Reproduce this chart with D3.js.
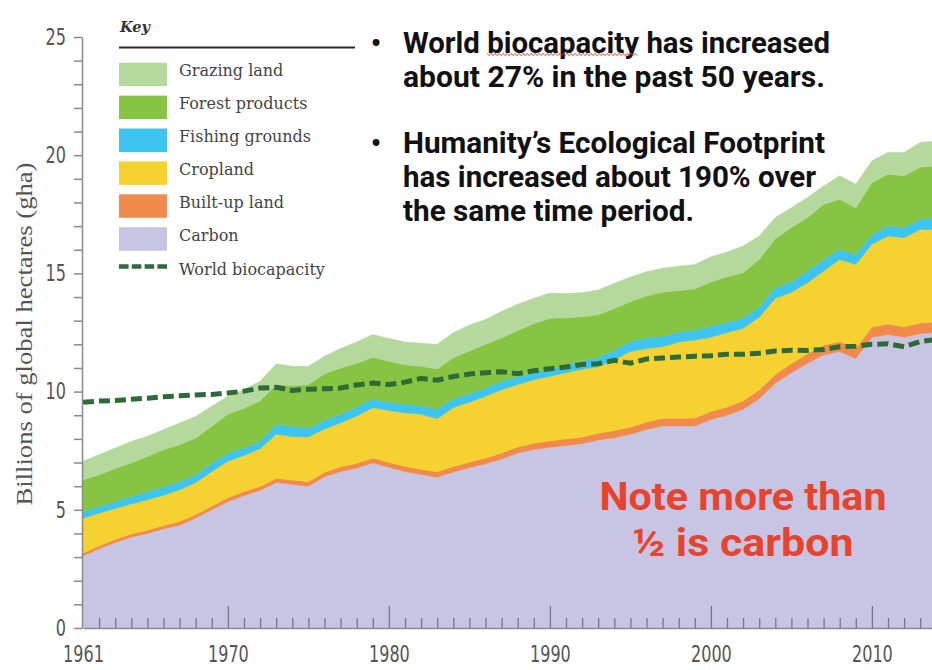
<!DOCTYPE html>
<html>
<head>
<meta charset="utf-8">
<script src="https://cdn.jsdelivr.net/npm/d3@7"></script>
<style>
  html, body { margin: 0; padding: 0; background: #fff; }
  svg { display: block; }
</style>
</head>
<body>
<svg id="chart" width="932" height="670"></svg>
<script>
// Ecological Footprint by component vs. world biocapacity, 1961–2014 (billions of gha)
const years = [
  1961,1962,1963,1964,1965,1966,1967,1968,1969,1970,
  1971,1972,1973,1974,1975,1976,1977,1978,1979,1980,
  1981,1982,1983,1984,1985,1986,1987,1988,1989,1990,
  1991,1992,1993,1994,1995,1996,1997,1998,1999,2000,
  2001,2002,2003,2004,2005,2006,2007,2008,2009,2010,
  2011,2012,2013,2014
];
const carbon = [
  3.05,3.35,3.62,3.85,4.00,4.20,4.35,4.65,5.00,5.35,
  5.60,5.82,6.15,6.08,6.00,6.40,6.62,6.77,6.98,6.80,
  6.62,6.50,6.38,6.60,6.78,6.95,7.15,7.40,7.55,7.65,
  7.72,7.80,7.95,8.05,8.20,8.40,8.55,8.55,8.55,8.82,
  9.00,9.25,9.70,10.35,10.80,11.20,11.55,11.70,11.40,12.30,
  12.42,12.30,12.45,12.50
];
const builtUp = [
  0.12,0.12,0.13,0.13,0.14,0.14,0.15,0.15,0.16,0.16,
  0.17,0.17,0.18,0.18,0.19,0.19,0.20,0.20,0.21,0.21,
  0.22,0.22,0.23,0.23,0.24,0.24,0.25,0.26,0.26,0.27,
  0.28,0.28,0.29,0.30,0.30,0.31,0.32,0.32,0.33,0.34,
  0.35,0.36,0.37,0.38,0.39,0.40,0.41,0.42,0.42,0.43,
  0.44,0.44,0.45,0.45
];
const cropland = [
  1.48,1.39,1.30,1.27,1.29,1.28,1.35,1.35,1.46,1.54,
  1.53,1.59,1.87,1.84,1.89,1.83,1.86,2.00,2.13,2.19,
  2.26,2.33,2.24,2.50,2.53,2.61,2.68,2.64,2.69,2.73,
  2.80,2.87,2.81,3.00,3.20,3.11,3.03,3.23,3.30,3.14,
  3.15,3.07,3.08,3.22,3.01,3.00,3.14,3.47,3.56,3.50,
  3.72,3.77,3.96,3.91
];
const fishing = [
  0.28,0.28,0.30,0.31,0.34,0.35,0.35,0.33,0.36,0.35,
  0.33,0.32,0.42,0.43,0.37,0.38,0.37,0.38,0.38,0.35,
  0.37,0.35,0.41,0.37,0.37,0.35,0.37,0.32,0.32,0.30,
  0.32,0.35,0.40,0.40,0.42,0.45,0.44,0.42,0.42,0.48,
  0.42,0.44,0.43,0.45,0.45,0.50,0.49,0.43,0.42,0.42,
  0.43,0.43,0.43,0.50
];
const forest = [
  1.34,1.34,1.40,1.42,1.49,1.57,1.55,1.56,1.55,1.65,
  1.67,1.70,1.68,1.72,1.85,1.95,1.95,1.85,1.75,1.73,
  1.67,1.67,1.70,1.73,1.80,1.85,1.82,1.96,2.06,2.15,
  2.00,1.87,1.80,1.77,1.68,1.78,1.86,1.76,1.75,1.86,
  1.94,1.91,2.01,2.07,2.29,2.26,2.33,2.12,1.98,2.19,
  2.19,2.19,2.20,2.19
];
const grazing = [
  0.78,0.85,0.86,0.91,0.85,0.85,0.92,0.91,0.85,0.75,
  0.78,0.84,0.87,0.82,0.77,0.75,0.82,0.90,0.97,0.97,
  0.96,0.97,1.04,1.06,1.10,1.05,1.13,1.11,1.07,1.07,
  1.03,1.01,1.05,1.06,1.05,1.02,1.02,1.02,1.03,1.06,
  1.04,1.13,0.99,0.89,0.84,0.85,0.78,0.99,0.99,0.92,
  0.91,0.98,1.05,1.05
];
const biocapacity = [
  9.55,9.60,9.62,9.68,9.72,9.78,9.82,9.86,9.88,9.94,
  10.02,10.15,10.18,10.05,10.10,10.12,10.15,10.28,10.36,10.30,
  10.40,10.56,10.48,10.64,10.74,10.80,10.84,10.76,10.88,10.97,
  11.04,11.15,11.18,11.32,11.20,11.38,11.42,11.46,11.50,11.52,
  11.58,11.58,11.62,11.72,11.75,11.74,11.78,11.90,11.92,12.00,
  12.02,11.90,12.12,12.20
];
const yTickLabels = [0, 5, 10, 15, 20, 25];
const xTickLabels = [1961, 1970, 1980, 1990, 2000, 2010];

// Stack order, bottom to top
const layers = [
  { key: "carbon",   label: "Carbon",           values: carbon,   color: "#c7c4e4" },
  { key: "builtUp",  label: "Built-up land",    values: builtUp,  color: "#f08b4d" },
  { key: "cropland", label: "Cropland",         values: cropland, color: "#f6d231" },
  { key: "fishing",  label: "Fishing grounds",  values: fishing,  color: "#3ec4f1" },
  { key: "forest",   label: "Forest products",  values: forest,   color: "#87c441" },
  { key: "grazing",  label: "Grazing land",     values: grazing,  color: "#b5d99c" }
];
const bioColor = "#2e6b37";

const W = 932, H = 670;
const svg = d3.select("#chart");
svg.append("rect").attr("width", W).attr("height", H).attr("fill", "#fff");

const x = d3.scaleLinear().domain([1961, 2014]).range([83, 936.3]);
const y = d3.scaleLinear().domain([0, 25]).range([628, 37]);

// ---- stacked areas ----
const table = years.map((yr, i) => {
  const row = { year: yr };
  layers.forEach(l => { row[l.key] = l.values[i]; });
  return row;
});
const series = d3.stack().keys(layers.map(l => l.key))(table);
const area = d3.area()
  .x(d => x(d.data.year))
  .y0(d => y(d[0]))
  .y1(d => y(d[1]));

svg.append("g")
  .selectAll("path")
  .data(series)
  .join("path")
  .attr("d", area)
  .attr("fill", (d, i) => layers[i].color)
  .attr("stroke", (d, i) => layers[i].color)
  .attr("stroke-width", 0.6);

// ---- world biocapacity ----
const bioLine = d3.line()
  .x((d, i) => x(years[i]))
  .y(d => y(d));
svg.append("path")
  .datum(biocapacity)
  .attr("d", bioLine)
  .attr("fill", "none")
  .attr("stroke", bioColor)
  .attr("stroke-width", 5)
  .attr("stroke-dasharray", "11,5");

// ---- axes ----
const axisColor = "#8a8a8a";
const tickFont = "'DejaVu Sans Condensed', 'Liberation Sans Narrow', Roboto, sans-serif";
// narrow the tick numerals to a condensed look
const condense = sel => sel.each(function () {
  const t = d3.select(this), s = t.text();
  if (s) t.attr("textLength", s.length * 10.2).attr("lengthAdjust", "spacingAndGlyphs");
});

const gy = svg.append("g")
  .attr("transform", "translate(82,0)")
  .call(d3.axisLeft(y)
    .tickValues(d3.range(0, 26))
    .tickSize(8)
    .tickSizeOuter(0)
    .tickPadding(8)
    .tickFormat(d => yTickLabels.includes(d) ? d : ""));
gy.attr("font-family", tickFont).attr("font-size", 22.5);
gy.select(".domain").attr("stroke", axisColor).attr("stroke-width", 1.5);
gy.selectAll(".tick line").attr("stroke", axisColor).attr("stroke-width", 1.5);
gy.selectAll(".tick text").attr("fill", "#555").call(condense);

const gx = svg.append("g")
  .attr("transform", "translate(0,628)")
  .call(d3.axisBottom(x)
    .tickValues(years)
    .tickSizeInner(-10)
    .tickSizeOuter(0)
    .tickPadding(18)
    .tickFormat(d => xTickLabels.includes(d) ? d : ""));
gx.attr("font-family", tickFont).attr("font-size", 22.5);
gx.select(".domain").attr("stroke", axisColor).attr("stroke-width", 1.5);
gx.selectAll(".tick line").attr("stroke", "#77758c").attr("stroke-width", 1.3);
gx.selectAll(".tick").filter(d => d % 10 === 0).select("line").attr("y2", -22);
gx.selectAll(".tick").filter(d => d === 1961).select("line").remove();
gx.selectAll(".tick text").attr("fill", "#555").call(condense);

// y-axis title
svg.append("text")
  .attr("transform", "translate(32,334) rotate(-90)")
  .attr("text-anchor", "middle")
  .attr("font-family", "'Liberation Serif', 'Times New Roman', serif")
  .attr("font-size", 23)
  .attr("fill", "#555")
  .attr("textLength", 343)
  .attr("lengthAdjust", "spacingAndGlyphs")
  .text("Billions of global hectares (gha)");

// ---- key ----
const key = svg.append("g").attr("transform", "translate(119,0)");
key.append("text")
  .attr("x", 1).attr("y", 32)
  .attr("font-family", "'DejaVu Serif', serif")
  .attr("font-style", "italic")
  .attr("font-weight", "bold")
  .attr("font-size", 14.5)
  .attr("fill", "#333")
  .text("Key");
key.append("line")
  .attr("x1", 0).attr("x2", 236)
  .attr("y1", 47.5).attr("y2", 47.5)
  .attr("stroke", "#2a2a2a").attr("stroke-width", 2);

const keyRows = layers.slice().reverse();
const rowTop = i => 62.7 + i * 32.9;
const keyItem = key.selectAll("g.item")
  .data(keyRows)
  .join("g")
  .attr("class", "item")
  .attr("transform", (d, i) => `translate(0,${rowTop(i)})`);
keyItem.append("rect")
  .attr("width", 48).attr("height", 23.5)
  .attr("fill", d => d.color);
keyItem.append("text")
  .attr("x", 60).attr("y", 13.6)
  .attr("font-family", "'DejaVu Serif', serif")
  .attr("font-size", 16)
  .attr("fill", "#444")
  .text(d => d.label);

const bioRow = key.append("g").attr("transform", `translate(0,${rowTop(keyRows.length)})`);
bioRow.append("line")
  .attr("x1", 0).attr("x2", 48)
  .attr("y1", 6.5).attr("y2", 6.5)
  .attr("stroke", bioColor)
  .attr("stroke-width", 4.5)
  .attr("stroke-dasharray", "9.6,3.2");
bioRow.append("text")
  .attr("x", 60).attr("y", 14.5)
  .attr("font-family", "'DejaVu Serif', serif")
  .attr("font-size", 16)
  .attr("fill", "#444")
  .text("World biocapacity");

// ---- bullet notes ----
const noteFont = "Roboto, 'Liberation Sans', Arial, sans-serif";
const noteLines = [
  { text: "World biocapacity has increased", y: 53, bullet: true, w: 427 },
  { text: "about 27% in the past 50 years.", y: 87, bullet: false, w: 422 },
  { text: "Humanity\u2019s Ecological Footprint", y: 153, bullet: true, w: 422 },
  { text: "has increased about 190% over", y: 187, bullet: false, w: 413 },
  { text: "the same time period.", y: 221, bullet: false, w: 291 }
];
const notes = svg.append("g")
  .attr("font-family", noteFont)
  .attr("font-weight", "bold")
  .attr("font-size", 29)
  .attr("fill", "#111");
const noteText = notes.selectAll("text.line")
  .data(noteLines)
  .join("text")
  .attr("class", "line")
  .attr("x", 403)
  .attr("y", d => d.y)
  .attr("textLength", d => d.w)
  .attr("lengthAdjust", "spacingAndGlyphs")
  .text(d => d.text);
notes.selectAll("text.bullet")
  .data(noteLines.filter(d => d.bullet))
  .join("text")
  .attr("class", "bullet")
  .attr("x", 376)
  .attr("y", d => d.y)
  .attr("text-anchor", "middle")
  .text("\u2022");

// spell-check squiggle under "biocapacity"
{
  const node = noteText.nodes()[0];
  const x0 = node.getStartPositionOfChar(6).x;
  const x1 = node.getEndPositionOfChar(16).x;
  const yb = noteLines[0].y + 1.5;
  const pts = [];
  for (let px = x0, k = 0; px <= x1; px += 2, k++) pts.push([px, yb + (k % 2 ? 1.2 : -1.2)]);
  svg.append("path")
    .attr("d", d3.line()(pts))
    .attr("fill", "none")
    .attr("stroke", "#e0403a")
    .attr("stroke-width", 0.9);
}

// ---- carbon note ----
const carbonNote = [
  { text: "Note more than", y: 509.5, w: 287 },
  { text: "\u00BD is carbon", y: 556, w: 221 }
];
svg.append("g")
  .attr("font-family", noteFont)
  .attr("font-weight", "bold")
  .attr("font-size", 38)
  .attr("fill", "#e8432d")
  .attr("text-anchor", "middle")
  .selectAll("text")
  .data(carbonNote)
  .join("text")
  .attr("x", 743)
  .attr("y", d => d.y)
  .attr("textLength", d => d.w)
  .attr("lengthAdjust", "spacingAndGlyphs")
  .text(d => d.text);
</script>
</body>
</html>
